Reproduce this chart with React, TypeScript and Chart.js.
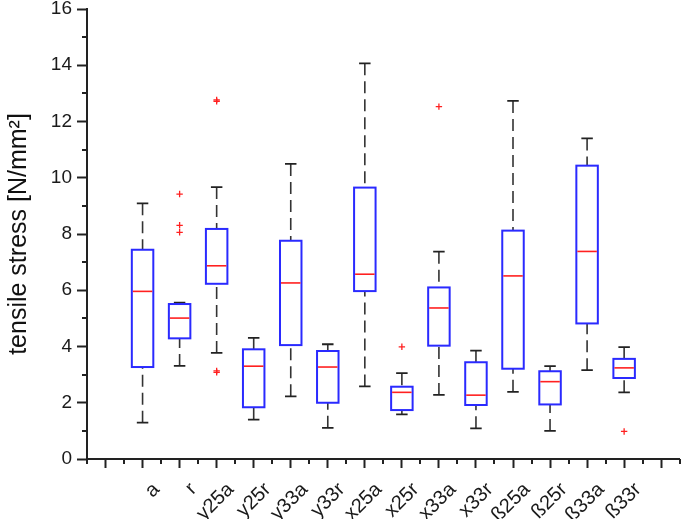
import { useEffect, useRef } from 'react';
import { Chart, registerables } from 'chart.js';

Chart.register(...registerables);

// ---- data ----
const categories = ['a', 'r', 'y25a', 'y25r', 'y33a', 'y33r', 'x25a', 'x25r', 'x33a', 'x33r', 'ß25a', 'ß25r', 'ß33a', 'ß33r'];
const whiskerLow = [1.29, 3.31, 3.77, 1.4, 2.23, 1.11, 2.58, 1.59, 2.28, 1.09, 2.39, 1.0, 3.16, 2.37];
const q1 = [3.27, 4.29, 6.23, 1.84, 4.05, 2.0, 5.97, 1.74, 4.03, 1.92, 3.21, 1.94, 4.82, 2.88];
const median = [5.96, 5.01, 6.87, 3.3, 6.26, 3.27, 6.57, 2.37, 5.37, 2.27, 6.51, 2.75, 7.38, 3.24];
const q3 = [7.44, 5.51, 8.18, 3.9, 7.76, 3.84, 9.65, 2.57, 6.1, 3.44, 8.12, 3.12, 10.43, 3.56];
const whiskerHigh = [9.09, 5.56, 9.67, 4.31, 10.49, 4.08, 14.07, 3.05, 7.37, 3.85, 12.73, 3.3, 11.4, 3.98];
const outlierCategory = ['r', 'r', 'r', 'y25a', 'y25a', 'y25a', 'y25a', 'x25r', 'x33a', 'ß33r'];
const outlierValues = [9.42, 8.31, 8.06, 12.77, 12.72, 3.13, 3.08, 3.99, 12.53, 0.98];
const yMin = 0;
const yMax = 16;
const yTitle = 'tensile stress [N/mm²]';

const FONT = '"Liberation Sans", Arial, sans-serif';
const BOX_HALF = 0.29; // in category units
const CAP_HALF = 0.155;

const boxPlugin = {
  id: 'boxPlot',
  beforeDatasetsDraw(chart: any) {
    const { ctx } = chart;
    const xs = chart.scales.x;
    const ys = chart.scales.y;
    ctx.save();
    categories.forEach((_, i) => {
      const pos = i + 1;
      const cx = xs.getPixelForValue(pos);
      const hb = xs.getPixelForValue(pos + BOX_HALF) - cx;
      const hc = xs.getPixelForValue(pos + CAP_HALF) - cx;
      const pLow = ys.getPixelForValue(whiskerLow[i]);
      const pQ1 = ys.getPixelForValue(q1[i]);
      const pMed = ys.getPixelForValue(median[i]);
      const pQ3 = ys.getPixelForValue(q3[i]);
      const pHigh = ys.getPixelForValue(whiskerHigh[i]);

      // whiskers (dashed)
      ctx.strokeStyle = '#333333';
      ctx.lineWidth = 1.6;
      ctx.setLineDash([12, 6]);
      ctx.beginPath();
      ctx.moveTo(cx, pHigh);
      ctx.lineTo(cx, pQ3);
      ctx.moveTo(cx, pLow);
      ctx.lineTo(cx, pQ1);
      ctx.stroke();
      ctx.setLineDash([]);
      // caps
      ctx.strokeStyle = '#222222';
      ctx.lineWidth = 1.8;
      ctx.beginPath();
      ctx.moveTo(cx - hc, pHigh);
      ctx.lineTo(cx + hc, pHigh);
      ctx.moveTo(cx - hc, pLow);
      ctx.lineTo(cx + hc, pLow);
      ctx.stroke();
      // box
      ctx.fillStyle = '#ffffff';
      ctx.fillRect(cx - hb, pQ3, 2 * hb, pQ1 - pQ3);
      ctx.strokeStyle = '#2a2aff';
      ctx.lineWidth = 2;
      ctx.strokeRect(cx - hb, pQ3, 2 * hb, pQ1 - pQ3);
      // median
      ctx.strokeStyle = '#ff2020';
      ctx.lineWidth = 1.6;
      ctx.beginPath();
      ctx.moveTo(cx - hb + 1, pMed);
      ctx.lineTo(cx + hb - 1, pMed);
      ctx.stroke();
    });
    ctx.restore();
  },
  afterDraw(chart: any) {
    // minor ticks
    const { ctx, chartArea } = chart;
    const xs = chart.scales.x;
    const ys = chart.scales.y;
    ctx.save();
    ctx.strokeStyle = '#222222';
    ctx.lineWidth = 2;
    ctx.beginPath();
    for (let v = -0.5; v <= 15.5; v += 1) {
      const px = Math.round(xs.getPixelForValue(v));
      ctx.moveTo(px, chartArea.bottom);
      ctx.lineTo(px, chartArea.bottom + 5);
    }
    for (let v = yMin + 1; v < yMax; v += 2) {
      const py = Math.round(ys.getPixelForValue(v));
      ctx.moveTo(chartArea.left - 5, py);
      ctx.lineTo(chartArea.left, py);
    }
    ctx.stroke();
    ctx.restore();
  },
};

export default function App() {
  const ref = useRef<HTMLCanvasElement | null>(null);
  useEffect(() => {
    if (!ref.current) return;
    const outliers = outlierCategory.map((c, i) => ({ x: categories.indexOf(c) + 1, y: outlierValues[i] }));
    const chart = new Chart(ref.current, {
      type: 'scatter',
      data: {
        datasets: [
          {
            label: 'outliers',
            data: outliers,
            pointStyle: 'cross',
            radius: 3.2,
            borderColor: '#ff2020',
            backgroundColor: '#ff2020',
            borderWidth: 1.3,
          },
        ],
      },
      options: {
        animation: false,
        responsive: false,
        layout: { padding: { top: 9, right: 1, left: 0, bottom: 0 } },
        plugins: { legend: { display: false }, tooltip: { enabled: false } },
        scales: {
          x: {
            type: 'linear',
            min: -0.5,
            max: 15.5,
            afterFit: (s: any) => {
              s.height = 60;
              s.paddingLeft = 0;
              s.paddingRight = 0;
            },
            afterBuildTicks: (s: any) => {
              const t = [];
              for (let v = -0.5; v <= 15.5; v += 0.5) t.push({ value: v });
              s.ticks = t;
            },
            ticks: {
              autoSkip: false,
              minRotation: 45,
              maxRotation: 45,
              labelOffset: 14,
              padding: 10,
              color: '#1a1a1a',
              font: { family: FONT, size: 20 },
              callback: (v: any) => {
                const n = Number(v);
                if (Number.isInteger(n) && n >= 1 && n <= categories.length) return categories[n - 1];
                return '';
              },
            },
            grid: {
              drawOnChartArea: false,
              tickLength: 9,
              tickWidth: 2,
              tickColor: (c: any) => (c.tick && Number.isInteger(c.tick.value) ? '#222222' : 'rgba(0,0,0,0)'),
            },
            border: { display: true, color: '#222222', width: 2 },
          },
          y: {
            min: yMin,
            max: yMax,
            afterFit: (s: any) => {
              s.width = 87;
              s.paddingTop = 0;
              s.paddingBottom = 0;
            },
            ticks: {
              stepSize: 1,
              padding: 5,
              color: '#1a1a1a',
              font: { family: FONT, size: 19 },
              callback: (v: any) => (Number(v) % 2 === 0 ? String(v) : ''),
            },
            grid: {
              drawOnChartArea: false,
              tickLength: 10,
              tickWidth: 2,
              tickColor: (c: any) => (c.tick && c.tick.value % 2 === 0 ? '#222222' : 'rgba(0,0,0,0)'),
            },
            border: { display: true, color: '#222222', width: 2 },
            title: {
              display: true,
              text: yTitle,
              color: '#111111',
              font: { family: FONT, size: 25 },
              padding: { top: 4, bottom: 0 },
            },
          },
        },
      },
      plugins: [boxPlugin],
    });
    return () => chart.destroy();
  }, []);
  return (
    <div style={{ position: 'absolute', left: 0, top: 0, width: 685, height: 519, background: '#fff' }}>
      <canvas ref={ref} width={685} height={519} style={{ display: 'block' }} />
    </div>
  );
}
